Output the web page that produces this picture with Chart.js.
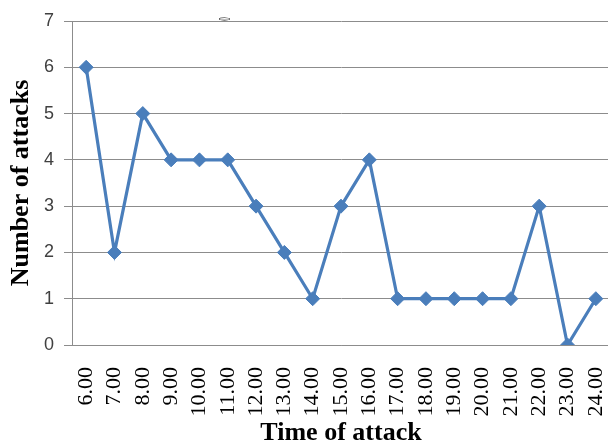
<!DOCTYPE html>
<html>
<head>
<meta charset="utf-8">
<script src="https://cdn.jsdelivr.net/npm/chart.js@4/dist/chart.umd.min.js"></script>
<style>
html,body{margin:0;padding:0;background:#fff;overflow:hidden;}
#wrap{position:relative;width:618px;height:444px;}
</style>
</head>
<body>
<div id="wrap"><canvas id="c" width="618" height="444"></canvas></div>
<script>
const categories = ["6.00","7.00","8.00","9.00","10.00","11.00","12.00","13.00","14.00","15.00","16.00","17.00","18.00","19.00","20.00","21.00","22.00","23.00","24.00"];
const attacks = [6,2,5,4,4,4,3,2,1,3,4,1,1,1,1,1,3,0,1];
const yTicks = [0,1,2,3,4,5,6,7];
const xTitle = "Time of attack";
const yTitle = "Number of attacks";
const strayMark = "0";

const blue = "#4A7EBB";
const gridColor = "#8C8C8C";
const serif = "'Liberation Serif', 'Times New Roman', serif";

const strayPlugin = {
  id: 'stray',
  afterDraw(chart) {
    const ctx = chart.ctx;
    ctx.save();
    ctx.translate(226, 19);
    ctx.rotate(-Math.PI / 2);
    ctx.scale(0.55, 1.3);
    ctx.font = "13px " + serif;
    ctx.fillStyle = "#000";
    ctx.textAlign = "center";
    ctx.textBaseline = "middle";
    ctx.fillText(strayMark, 0, 0);
    ctx.restore();
  }
};

new Chart(document.getElementById('c'), {
  type: 'line',
  data: {
    labels: categories,
    datasets: [{
      data: attacks,
      borderColor: blue,
      backgroundColor: blue,
      borderWidth: 3.2,
      pointStyle: 'rectRot',
      pointRadius: 7,
      pointHoverRadius: 7,
      pointBackgroundColor: blue,
      pointBorderColor: blue,
      pointBorderWidth: 1,
      tension: 0,
      fill: false
    }]
  },
  options: {
    responsive: false,
    animation: false,
    events: [],
    layout: { padding: { top: 21, left: 0, right: 0, bottom: 0 } },
    plugins: { legend: { display: false }, tooltip: { enabled: false } },
    scales: {
      x: {
        offset: true,
        grid: { display: false, drawTicks: false },
        border: { display: true, color: gridColor, width: 1 },
        ticks: {
          autoSkip: false,
          minRotation: 90,
          maxRotation: 90,
          padding: 22,
          color: "#000",
          font: { family: serif, size: 22, lineHeight: 1 }
        },
        title: {
          display: true,
          text: xTitle,
          color: "#000",
          font: { family: serif, size: 26, weight: 'bold', lineHeight: 0.85 },
          padding: { top: 0, bottom: 0 }
        },
        afterFit(scale) { scale.height = 99; scale.paddingRight = 0; scale.paddingLeft = 0; }
      },
      y: {
        min: 0,
        max: 7,
        afterBuildTicks(scale) { scale.ticks = yTicks.map(v => ({ value: v })); },
        grid: { color: gridColor, lineWidth: 1, drawTicks: true, tickLength: 8, tickColor: gridColor },
        border: { display: true, color: gridColor, width: 1 },
        ticks: {
          padding: 10,
          color: "#404040",
          font: { family: "'Liberation Sans', Arial, sans-serif", size: 18 }
        },
        title: {
          display: true,
          text: yTitle,
          color: "#000",
          font: { family: serif, size: 26, weight: 'bold', lineHeight: 1 },
          padding: { top: 8, bottom: 0 }
        },
        afterFit(scale) { scale.width = 72; }
      }
    }
  },
  plugins: [strayPlugin]
});
</script>
</body>
</html>
